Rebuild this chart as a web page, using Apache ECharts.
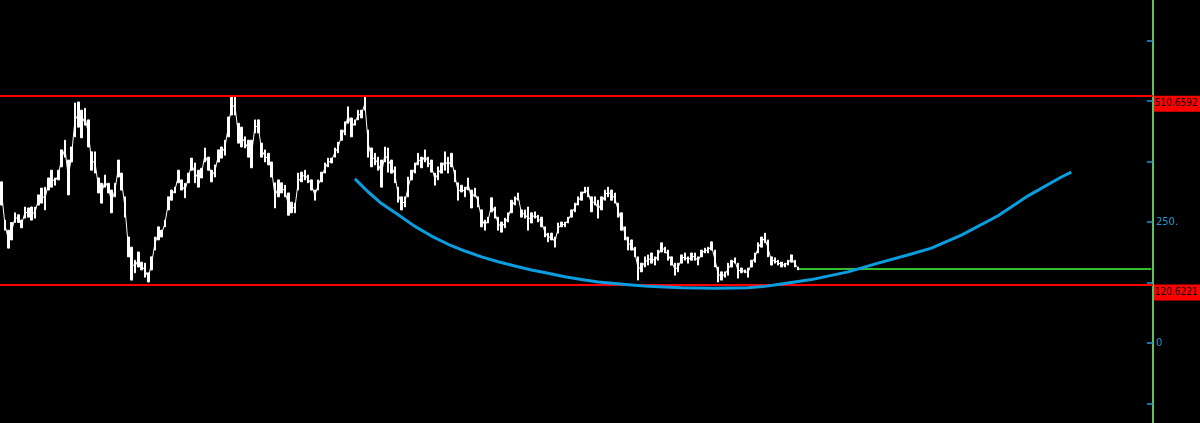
<!DOCTYPE html>
<html style="height: 100%">
<head>
  <meta charset="utf-8">
  <script src="https://cdn.jsdelivr.net/npm/echarts@6/dist/echarts.min.js"></script>
</head>
<body style="height: 100%; margin: 0; background: #000">
<div id="container" style="width: 1200px; height: 423px"></div>
<script type="text/javascript">
// price bars: low / high of each bar
var lows = [285,233,196,213,249,249,238,258,260,254,258,285,289,275,316,322,326,337,364,384,
  306,374,426,446,424,450,405,357,351,310,289,322,310,269,302,343,316,260,178,130,
  145,157,151,136,126,151,192,213,219,240,275,295,310,331,316,300,331,357,331,322,
  341,374,357,333,343,374,382,388,426,471,471,413,405,403,384,362,434,434,384,374,
  368,343,279,302,310,302,264,269,269,316,333,337,331,316,295,316,333,351,364,372,
  384,393,419,430,454,426,450,461,465,481,384,364,368,357,322,374,353,351,331,291,
  275,281,302,337,351,368,362,374,364,353,326,337,351,357,351,364,333,295,312,302,
  316,279,302,281,240,233,248,271,258,233,229,238,250,269,285,295,260,258,233,248,
  258,250,240,219,209,213,198,227,240,240,248,260,271,285,295,310,302,271,285,258,
  275,295,302,295,289,260,233,213,192,192,178,130,147,157,161,165,161,171,188,186,
  171,161,140,147,165,171,165,171,171,161,178,186,186,192,157,126,130,136,140,157,
  165,134,145,145,136,157,167,186,198,207,178,161,165,161,157,157,161,167,157,151];
var highs = [333,254,233,249,269,265,254,281,279,281,281,306,320,322,341,357,341,357,399,419,
  378,405,496,498,481,485,461,395,395,341,330,347,330,316,330,378,351,302,219,198,
  171,188,167,165,145,178,219,240,233,254,302,316,322,357,337,330,351,382,372,357,
  361,403,384,357,368,399,405,419,467,508,508,454,446,426,419,419,461,461,413,399,
  392,374,331,337,331,326,310,291,289,351,353,357,347,337,316,337,353,372,382,382,
  403,415,440,457,488,465,461,481,481,508,440,403,392,384,378,405,403,378,364,322,
  302,302,343,357,372,392,384,399,384,378,351,364,372,395,384,392,357,331,326,322,
  341,316,320,302,275,254,260,300,281,260,250,258,269,295,302,310,275,275,281,269,
  271,264,260,240,227,227,219,248,250,250,260,275,289,302,312,322,322,302,302,295,
  302,316,322,316,310,289,269,240,219,213,198,178,165,178,182,186,178,192,207,198,
  192,178,165,165,182,186,178,186,186,178,192,196,198,209,192,157,147,147,165,171,
  176,165,155,151,155,171,186,207,219,227,213,178,176,171,167,165,171,182,171,157];

// smoothed curve (blue): bar index and value
var curveIdx = [106,110,114,119,124,129,134,139,144,149,154,159,164,169,174,179,184,189,194,204,
  214,224,229,234,243,254,263,273,279,288,299,308,318,321];
var curveVal = [339,312,288,265,241,221,204,190,178,168,159,151,144,137,131,126,123,120,117,114,
  113,114,117,122,131,147,165,184,196,223,263,304,343,353];

var resistance = 510.6592;
var support = 120.6221;
var lastPrice = 153;
var barCount = 346;

var tickValues = [-125, 0, 125, 250, 375, 500, 625];
var labelValues = [0, 250];

var categories = [];
for (var i = 0; i < barCount; i++) categories.push(String(i));

var bars = [], mids = [];
for (var i = 0; i < lows.length; i++) {
  bars.push([lows[i], highs[i], lows[i], highs[i]]);
  mids.push((lows[i] + highs[i]) / 2);
}

var curve = new Array(barCount).fill(null);
for (var i = 0; i < curveIdx.length; i++) curve[curveIdx[i]] = curveVal[i];

var lastLine = new Array(barCount).fill(null);
for (var i = lows.length - 1; i < barCount; i++) lastLine[i] = lastPrice;

var dom = document.getElementById("container");
var myChart = echarts.init(dom);

var boxLabel = {
  show: true,
  position: 'end',
  distance: 1,
  offset: [0, 8],
  backgroundColor: '#ff0000',
  color: '#000',
  fontFamily: 'DejaVu Sans Condensed, sans-serif',
  fontSize: 10,
  width: 44,
  height: 12,
  padding: [2, 1, 2, 1],
  overflow: 'none',
  formatter: '{b}'
};

var option = {
  backgroundColor: '#000',
  animation: false,
  grid: { left: 0, right: 47, top: 0, bottom: 0 },
  xAxis: {
    type: 'category',
    data: categories,
    boundaryGap: true,
    show: false
  },
  yAxis: {
    type: 'value',
    position: 'right',
    min: -165.3,
    max: 708.7,
    splitLine: { show: false },
    axisLine: { show: true, lineStyle: { color: '#80ff80', width: 1.5 } },
    axisTick: {
      show: true, length: 6, inside: true,
      customValues: tickValues,
      lineStyle: { color: '#1e9ad6', width: 1.5 }
    },
    axisLabel: {
      show: true,
      customValues: labelValues,
      color: '#1e9ad6',
      fontSize: 11,
      margin: 3,
      fontFamily: 'DejaVu Sans Condensed, sans-serif',
      formatter: function (v) { return v === 0 ? '0' : v + '.'; }
    }
  },
  series: [
    {
      type: 'line',
      data: lastLine,
      symbol: 'none',
      lineStyle: { color: '#40ff40', width: 1.5 },
      z: 2
    },
    {
      type: 'line',
      data: mids,
      symbol: 'none',
      lineStyle: { color: '#ffffff', width: 1 },
      z: 3
    },
    {
      type: 'candlestick',
      data: bars,
      barWidth: 2,
      itemStyle: {
        color: '#ffffff', color0: '#ffffff',
        borderColor: '#ffffff', borderColor0: '#ffffff', borderWidth: 1
      },
      z: 4,
      markLine: {
        symbol: ['none', 'none'],
        silent: true,
        lineStyle: { color: '#ff0000', width: 2, type: 'solid' },
        label: boxLabel,
        data: [
          { yAxis: resistance, name: resistance.toFixed(4) },
          { yAxis: support, name: support.toFixed(4) }
        ]
      }
    },
    {
      type: 'line',
      data: curve,
      connectNulls: true,
      smooth: false,
      symbol: 'none',
      lineStyle: { color: '#0a9ee0', width: 3 },
      z: 5
    }
  ]
};

myChart.setOption(option, true);
</script>
</body>
</html>
